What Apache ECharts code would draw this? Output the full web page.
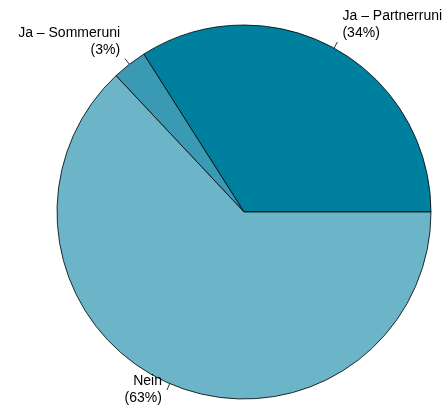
<!DOCTYPE html>
<html><head><meta charset="utf-8">
<script src="https://cdn.jsdelivr.net/npm/echarts@6/dist/echarts.min.js"></script>
<style>html,body{margin:0;padding:0;background:#fff}#c{width:448px;height:413px}</style>
</head><body><div id="c"></div>
<script>
var categories = ['Ja – Partnerruni', 'Ja – Sommeruni', 'Nein'];
var values = [34, 3, 63];
var colors = ['#00809f', '#3a9ab4', '#6cb5c9'];

var chart = echarts.init(document.getElementById('c'), null, {renderer: 'canvas'});
chart.setOption({
  animation: false,
  series: [{
    type: 'pie',
    center: [244, 212],
    radius: 187,
    startAngle: 0,
    clockwise: false,
    data: categories.map(function (c, i) {
      var d = {name: c, value: values[i], itemStyle: {color: colors[i]}};
      if (i === 2) d.label = {padding: [10, 0, 0, 0]};
      return d;
    }),
    itemStyle: {borderColor: '#000', borderWidth: 0.8},
    emphasis: {disabled: true},
    label: {
      show: true,
      position: 'outside',
      formatter: function (p) { return p.name + '\n(' + p.value + '%)'; },
      fontFamily: 'Liberation Sans, Arial, sans-serif',
      fontSize: 14,
      color: '#000',
      lineHeight: 17,
      overflow: 'none',
      edgeDistance: 0,
      distanceToLabelLine: 5
    },
    labelLayout: function (p) {
      return {verticalAlign: p.dataIndex === 2 ? 'middle' : 'bottom'};
    },
    labelLine: {show: true, length: 7, length2: 0, lineStyle: {color: '#000', width: 0.8}}
  }]
});
</script></body></html>
